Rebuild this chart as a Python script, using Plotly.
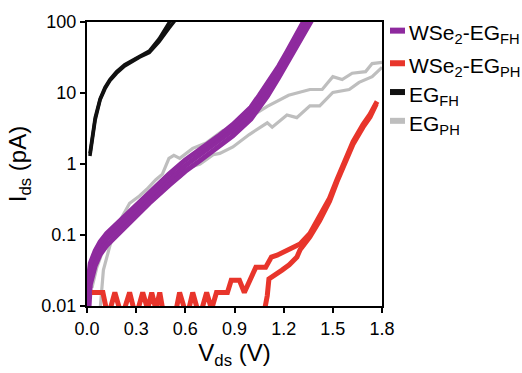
import plotly.graph_objects as go

# ---------------- data (Vds in V, Ids in pA) ----------------
wse2_fh_v1 = [0.00, 0.01, 0.02, 0.05, 0.08, 0.12, 0.17, 0.26, 0.38, 0.50, 0.60, 0.69, 0.80, 0.89, 1.00, 1.05, 1.10, 1.17, 1.22, 1.28, 1.36]
wse2_fh_i1 = [0.008, 0.018, 0.028, 0.047, 0.066, 0.087, 0.112, 0.178, 0.34, 0.60, 0.95, 1.35, 2.05, 3.0, 5.2, 7.6, 11, 20, 32, 56, 115]
wse2_fh_v2 = [0.005, 0.02, 0.05, 0.08, 0.12, 0.17, 0.26, 0.38, 0.50, 0.60, 0.69, 0.80, 0.89, 1.00, 1.05, 1.10, 1.17, 1.22, 1.28, 1.33]
wse2_fh_i2 = [0.02, 0.04, 0.06, 0.08, 0.105, 0.135, 0.215, 0.41, 0.72, 1.14, 1.6, 2.45, 3.6, 6.3, 9.2, 13.5, 24, 38, 65, 110]
wse2_fh_v3 = [0.01, 0.02, 0.05, 0.08, 0.12, 0.17, 0.26, 0.38, 0.50, 0.60, 0.69, 0.80, 0.89, 1.00, 1.05, 1.10, 1.17, 1.22, 1.28, 1.38]
wse2_fh_i3 = [0.008, 0.02, 0.037, 0.053, 0.071, 0.093, 0.15, 0.28, 0.50, 0.79, 1.12, 1.7, 2.5, 4.3, 6.3, 9.0, 16.5, 26.5, 46, 115]

wse2_ph_v_fwd = [0.03, 0.097, 0.128, 0.17, 0.213, 0.26, 0.298, 0.34, 0.37, 0.395, 0.42, 0.444, 0.47, 0.535, 0.565, 0.61, 0.645, 0.687, 0.73, 0.76, 0.79,
                 0.857, 0.88, 0.93, 0.96, 1.00, 1.03, 1.09, 1.125, 1.16, 1.234, 1.277, 1.30, 1.36, 1.42, 1.48, 1.525, 1.586, 1.623, 1.684, 1.727, 1.77]
wse2_ph_i_fwd = [0.0155, 0.0155, 0.007, 0.0155, 0.007, 0.0155, 0.007, 0.0155, 0.009, 0.0155, 0.009, 0.0155, 0.007, 0.007, 0.0155, 0.007, 0.0155, 0.007, 0.0155, 0.009, 0.0155,
                 0.0155, 0.023, 0.023, 0.0155, 0.026, 0.035, 0.035, 0.049, 0.052, 0.063, 0.072, 0.075, 0.105, 0.18, 0.33, 0.60, 1.25, 2.05, 3.6, 5.0, 7.6]
wse2_ph_v_rev = [1.07, 1.10, 1.11, 1.155, 1.19, 1.234, 1.281, 1.30, 1.36, 1.42, 1.48, 1.525, 1.586, 1.623, 1.684, 1.727, 1.765]
wse2_ph_i_rev = [0.006, 0.014, 0.024, 0.029, 0.032, 0.038, 0.049, 0.062, 0.094, 0.16, 0.30, 0.56, 1.15, 1.9, 3.3, 4.6, 7.0]

eg_fh_v1 = [0.018, 0.03, 0.05, 0.08, 0.11, 0.14, 0.18, 0.23, 0.28, 0.32, 0.38, 0.44, 0.50, 0.52]
eg_fh_i1 = [1.4, 2.2, 4.5, 8.3, 12, 15.5, 20, 25, 29, 33, 39, 58, 95, 115]
eg_fh_v2 = [0.018, 0.03, 0.05, 0.08, 0.11, 0.14, 0.18, 0.23, 0.28, 0.32, 0.38, 0.44, 0.50, 0.53, 0.55]
eg_fh_i2 = [1.3, 2.0, 4.2, 8.0, 11.5, 15, 19, 24, 28, 32, 37, 53, 82, 100, 115]

eg_ph_v1 = [0.08, 0.10, 0.14, 0.17, 0.20, 0.26, 0.32, 0.365, 0.42, 0.46, 0.50, 0.53, 0.566, 0.645, 0.73, 0.83, 0.89, 0.97, 1.10, 1.23, 1.36, 1.435, 1.50, 1.557, 1.618, 1.70, 1.74, 1.80]
eg_ph_i1 = [0.0089, 0.032, 0.071, 0.112, 0.158, 0.28, 0.355, 0.44, 0.60, 0.72, 1.2, 1.32, 1.2, 1.66, 2.0, 2.95, 3.1, 4.2, 6.5, 9.3, 11.2, 11.2, 17, 15.5, 19, 20, 26, 27]
eg_ph_v2 = [0.03, 0.06, 0.10, 0.15, 0.20, 0.26, 0.32, 0.38, 0.45, 0.50, 0.57, 0.61, 0.69, 0.77, 0.81, 0.89, 0.99, 1.10, 1.13, 1.22, 1.28, 1.36, 1.42, 1.50, 1.60, 1.66, 1.74, 1.80]
eg_ph_i2 = [0.018, 0.035, 0.063, 0.107, 0.15, 0.22, 0.295, 0.38, 0.47, 0.55, 0.66, 0.87, 1.0, 1.35, 1.41, 1.74, 2.6, 3.8, 3.3, 4.9, 4.5, 6.6, 6.6, 10.2, 11.2, 14.1, 17, 23]

x_ticks = [0.0, 0.3, 0.6, 0.9, 1.2, 1.5, 1.8]
y_ticks = [0.01, 0.1, 1, 10, 100]
y_ticktext = ["0.01", "0.1", "1", "10", "100"]

legend_labels = ["WSe<sub>2</sub>-EG<sub>FH</sub>", "WSe<sub>2</sub>-EG<sub>PH</sub>", "EG<sub>FH</sub>", "EG<sub>PH</sub>"]

# ---------------- style ----------------
PURPLE = "#8E2A9E"
RED = "#E8352B"
BLACK = "#111111"
GRAY = "#BEBEBE"
FONT = "Arial, Liberation Sans, sans-serif"

fig = go.Figure()

def add(v, i, color, width):
    fig.add_trace(go.Scatter(x=v, y=i, mode="lines", showlegend=False,
                             line=dict(color=color, width=width), hoverinfo="skip"))

add(eg_ph_v1, eg_ph_i1, GRAY, 3.2)
add(eg_ph_v2, eg_ph_i2, GRAY, 3.2)
add(wse2_fh_v1, wse2_fh_i1, PURPLE, 5)
add(wse2_fh_v2, wse2_fh_i2, PURPLE, 5)
add(wse2_fh_v3, wse2_fh_i3, PURPLE, 5)
add(wse2_ph_v_fwd, wse2_ph_i_fwd, RED, 5)
add(wse2_ph_v_rev, wse2_ph_i_rev, RED, 5)
add(eg_fh_v1, eg_fh_i1, BLACK, 3.5)
add(eg_fh_v2, eg_fh_i2, BLACK, 3.5)

# ---------------- layout ----------------
W, H = 522, 373
L, R, T, B = 87, 140, 15, 62
pw, ph = W - L - R, H - T - B

fig.update_layout(
    width=W, height=H,
    margin=dict(l=L, r=R, t=T, b=B, pad=0),
    paper_bgcolor="white", plot_bgcolor="white",
    font=dict(family=FONT, color="black", size=18),
    showlegend=False,
)
fig.update_xaxes(
    range=[0, 1.8], tickvals=x_ticks, ticktext=[f"{t:.1f}" for t in x_ticks],
    ticks="outside", ticklen=5, tickwidth=2, tickcolor="black",
    showline=True, linecolor="black", linewidth=2, mirror=True,
    showgrid=False, zeroline=False,
    tickfont=dict(size=18, family=FONT),
    title=dict(text="V<sub>ds</sub> (V)", font=dict(size=24, family=FONT), standoff=6),
)
fig.update_yaxes(
    type="log", range=[-2, 2], tickvals=y_ticks, ticktext=y_ticktext,
    ticks="outside", ticklen=5, tickwidth=2, tickcolor="black",
    showline=True, linecolor="black", linewidth=2, mirror=True,
    showgrid=False, zeroline=False,
    tickfont=dict(size=18, family=FONT),
    title=dict(text="I<sub>ds</sub> (pA)", font=dict(size=24, family=FONT), standoff=8),
)

# ---------------- custom legend ----------------
colors = [PURPLE, RED, BLACK, GRAY]
item_y_px = [24, 58, 88, 118]
for lab, col, ypx in zip(legend_labels, colors, item_y_px):
    yp = (H - B - ypx) / ph
    fig.add_shape(type="line", xref="paper", yref="paper",
                  x0=(390 - L) / pw, x1=(405 - L) / pw, y0=yp, y1=yp,
                  line=dict(color=col, width=6))
    fig.add_annotation(xref="paper", yref="paper", x=(407 - L) / pw, y=(H - B - ypx - 4) / ph,
                       text=lab, showarrow=False, xanchor="left", yanchor="middle",
                       font=dict(size=21, family=FONT, color="black"))

fig.write_html("out.html")
